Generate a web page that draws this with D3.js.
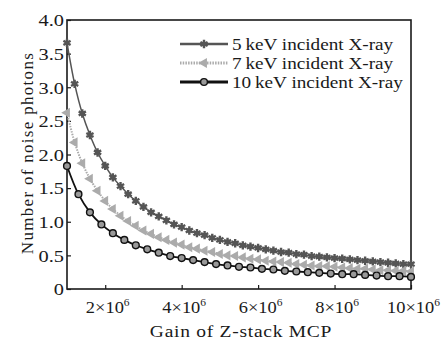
<!DOCTYPE html>
<html>
<head>
<meta charset="utf-8">
<script src="https://cdn.jsdelivr.net/npm/d3@7"></script>
<style>
  body { margin: 0; background: #fff; }
</style>
</head>
<body>
<svg id="chart" width="443" height="342"></svg>
<script>
// gain values (x 10^6)
let gainFine = [1.0,1.2,1.4,1.6,1.8,2.0,2.2,2.4,2.6,2.8,3.0,3.2,3.4,3.6,3.8,4.0,4.2,4.4,4.6,4.8,
  5.0,5.2,5.4,5.6,5.8,6.0,6.2,6.4,6.6,6.8,7.0,7.2,7.4,7.6,7.8,8.0,8.2,8.4,8.6,8.8,9.0,9.2,9.4,9.6,9.8,10.0];
let gainCoarse = [1.0,1.3,1.6,1.9,2.2,2.5,2.8,3.1,3.4,3.7,4.0,4.3,4.6,4.9,5.2,5.5,5.8,6.1,6.4,6.7,
  7.0,7.3,7.6,7.9,8.2,8.5,8.8,9.1,9.4,9.7,10.0];

let noise5keV = [3.66,3.05,2.61,2.29,2.03,1.83,1.66,1.53,1.41,1.31,1.22,1.14,1.08,1.02,0.96,0.92,0.87,0.83,0.80,0.76,
  0.73,0.70,0.68,0.65,0.63,0.61,0.59,0.57,0.55,0.54,0.52,0.51,0.49,0.48,0.47,0.46,0.45,0.44,0.43,0.42,0.41,0.40,0.39,0.38,0.37,0.37];
let noise7keV = [2.62,2.18,1.87,1.64,1.46,1.31,1.19,1.09,1.01,0.94,0.87,0.82,0.77,0.73,0.69,0.66,0.62,0.60,0.57,0.55,
  0.52,0.50,0.49,0.47,0.45,0.44,0.42,0.41,0.40,0.39,0.37,0.36,0.35,0.34,0.34,0.33,0.32,0.31,0.30,0.30,0.29,0.28,0.28,0.27,0.27,0.26];
let noise10keV = [1.83,1.41,1.14,0.96,0.83,0.73,0.65,0.59,0.54,0.49,0.46,0.43,0.40,0.37,0.35,0.33,0.32,0.30,0.29,0.27,
  0.26,0.25,0.24,0.23,0.22,0.22,0.21,0.20,0.19,0.19,0.18];

let seriesNames = ["5\u2009keV  incident  X-ray", "7\u2009keV  incident  X-ray", "10\u2009keV  incident  X-ray"];
let xTicks = [2, 4, 6, 8, 10];
let yTicks = [0, 0.5, 1.0, 1.5, 2.0, 2.5, 3.0, 3.5, 4.0];

const FONT = "'Liberation Serif', 'Times New Roman', Tinos, serif";
const INK = "#1a1a1a";

let svg = d3.select("#chart");
let m = {left: 67, top: 20, right: 32, bottom: 53};
let W = 443 - m.left - m.right, H = 342 - m.top - m.bottom;

let x = d3.scaleLinear().domain([1, 10]).range([0, W]);
let y = d3.scaleLinear().domain([0, 4]).range([H, 0]);

// widen text horizontally, like the stretched original figure
function stretch(t, sx, px) {
  t.attr("x", px / sx).attr("transform", "scale(" + sx + ",1)");
}

let g = svg.append("g").attr("transform", "translate(" + m.left + "," + m.top + ")");

// frame
g.append("rect").attr("width", W).attr("height", H)
  .attr("fill", "none").attr("stroke", INK).attr("stroke-width", 1.6);

// axes
let yAxis = g.append("g").call(d3.axisLeft(y).tickValues(yTicks).tickSizeInner(-4).tickSizeOuter(0)
  .tickFormat(d => d === 0 ? "0" : d3.format(".1f")(d)));
yAxis.select(".domain").remove();
yAxis.selectAll("line").attr("stroke", INK).attr("stroke-width", 1.2);
yAxis.selectAll("text").style("font-family", FONT).style("font-size", "17px").attr("fill", INK)
  .attr("dy", "0.34em").each(function() { stretch(d3.select(this), 1.2, -3); });

let xAxis = g.append("g").attr("transform", "translate(0," + H + ")")
  .call(d3.axisBottom(x).tickValues(xTicks).tickSizeInner(-4).tickSizeOuter(0).tickFormat(""));
xAxis.select(".domain").remove();
xAxis.selectAll("line").attr("stroke", INK).attr("stroke-width", 1.2);
xAxis.selectAll(".tick").each(function(d) {
  let t = d3.select(this).append("text").attr("y", 24).attr("text-anchor", "middle")
    .style("font-family", FONT).style("font-size", "16px").attr("fill", INK);
  t.append("tspan").text(d + "×10");
  t.append("tspan").attr("dy", -7).style("font-size", "10px").text("6");
  stretch(t, 1.15, 2);
});

// axis titles
let xt = svg.append("text").attr("y", 337).attr("text-anchor", "middle")
  .style("font-family", FONT).style("font-size", "16px").style("letter-spacing", "0.6px")
  .attr("fill", INK).text("Gain of Z-stack MCP");
stretch(xt, 1.22, 241);
svg.append("text").attr("transform", "translate(33," + 153 + ") rotate(-90)")
  .attr("text-anchor", "middle").style("font-family", FONT).style("font-size", "17px")
  .style("letter-spacing", "1.3px").attr("fill", INK).text("Number of noise photons");

let line = d3.line().x(d => x(d[0])).y(d => y(d[1])).curve(d3.curveCatmullRom);

let star = d3.symbol().type(d3.symbolAsterisk).size(48);
let tri = d3.symbol().type(d3.symbolTriangle).size(44);

let series = [
  {xs: gainFine, ys: noise5keV, color: "#555", width: 1.5, dash: null, marker: "star"},
  {xs: gainFine, ys: noise7keV, color: "#ababab", width: 2, dash: "1.5,1.2", marker: "tri"},
  {xs: gainCoarse, ys: noise10keV, color: "#111", width: 1.8, dash: null, marker: "circle"}
];

function drawMarker(sel, s) {
  if (s.marker === "star") {
    sel.append("path").attr("d", star).attr("fill", s.color).attr("stroke", s.color).attr("stroke-width", 2.4);
    sel.append("circle").attr("r", 2.4).attr("fill", s.color);
  } else if (s.marker === "tri") {
    sel.append("path").attr("d", tri).attr("transform", "rotate(-90)").attr("fill", s.color);
  } else {
    sel.append("circle").attr("r", 3.4).attr("fill", "#999").attr("stroke", "#111").attr("stroke-width", 1.4);
  }
}

series.forEach(s => {
  let pts = s.xs.map((v, i) => [v, s.ys[i]]);
  g.append("path").datum(pts).attr("d", line).attr("fill", "none")
    .attr("stroke", s.color).attr("stroke-width", s.width).attr("stroke-dasharray", s.dash);
  g.append("g").selectAll("g").data(pts).enter().append("g")
    .attr("transform", d => "translate(" + x(d[0]) + "," + y(d[1]) + ")")
    .each(function() { drawMarker(d3.select(this), s); });
});

// legend
let leg = svg.append("g").attr("transform", "translate(180,44)");
series.forEach((s, i) => {
  let row = leg.append("g").attr("transform", "translate(0," + (i * 19) + ")");
  row.append("line").attr("x1", 0).attr("x2", 48).attr("stroke", s.color)
    .attr("stroke-width", s.width + 1).attr("stroke-dasharray", s.dash);
  drawMarker(row.append("g").attr("transform", "translate(24,0)"), s);
  let t = row.append("text").attr("y", 5.5).style("font-family", FONT).style("font-size", "16px")
    .attr("fill", INK).text(seriesNames[i]);
  stretch(t, 1.2, 52);
});
</script>
</body>
</html>
